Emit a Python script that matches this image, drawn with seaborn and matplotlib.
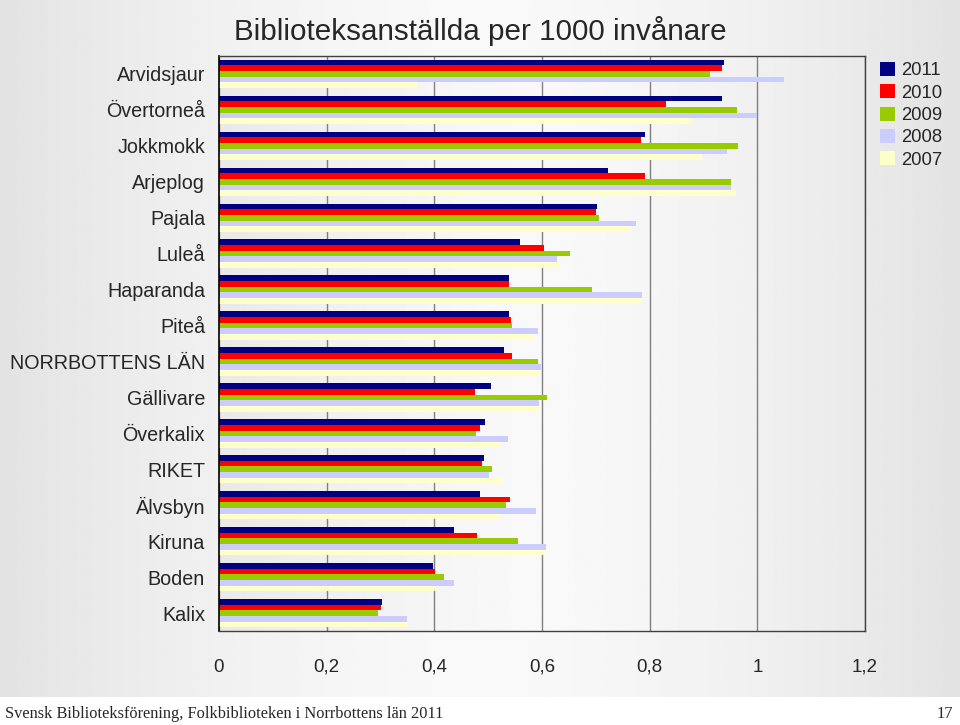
import numpy as np
import pandas as pd
import matplotlib
matplotlib.use("Agg")
import matplotlib.pyplot as plt
import seaborn as sns

# ---- data ----
categories = ["Arvidsjaur", "Övertorneå", "Jokkmokk", "Arjeplog", "Pajala", "Luleå",
              "Haparanda", "Piteå", "NORRBOTTENS LÄN", "Gällivare", "Överkalix", "RIKET",
              "Älvsbyn", "Kiruna", "Boden", "Kalix"]
years = ["2011", "2010", "2009", "2008", "2007"]
v2011 = [0.939, 0.935, 0.791, 0.723, 0.702, 0.559, 0.538, 0.538, 0.529, 0.506, 0.495, 0.493, 0.485, 0.436, 0.398, 0.302]
v2010 = [0.935, 0.831, 0.784, 0.791, 0.700, 0.603, 0.538, 0.543, 0.545, 0.476, 0.485, 0.488, 0.540, 0.479, 0.402, 0.300]
v2009 = [0.912, 0.962, 0.964, 0.952, 0.706, 0.652, 0.692, 0.545, 0.592, 0.610, 0.478, 0.507, 0.534, 0.555, 0.418, 0.296]
v2008 = [1.049, 1.000, 0.943, 0.952, 0.774, 0.627, 0.785, 0.592, 0.598, 0.595, 0.536, 0.502, 0.589, 0.607, 0.436, 0.349]
v2007 = [0.370, 0.877, 0.898, 0.961, 0.764, 0.632, 0.786, 0.585, 0.595, 0.595, 0.521, 0.525, 0.521, 0.607, 0.404, 0.350]
colors = ["#000080", "#ff0000", "#99cc00", "#ccccff", "#ffffcc"]
xticks = [0, 0.2, 0.4, 0.6, 0.8, 1.0, 1.2]
xticklabels = ["0", "0,2", "0,4", "0,6", "0,8", "1", "1,2"]
title = "Biblioteksanställda per 1000 invånare"
footer = "Svensk Biblioteksförening, Folkbiblioteken i Norrbottens län 2011"

rows = []
for yr, vals in zip(years, [v2011, v2010, v2009, v2008, v2007]):
    for c, v in zip(categories, vals):
        rows.append({"kommun": c, "year": yr, "value": v})
df = pd.DataFrame(rows)

sns.set_style("white")
plt.rcParams["font.family"] = ["Liberation Sans", "DejaVu Sans"]

W, H = 960, 725
fig = plt.figure(figsize=(W / 100, H / 100), dpi=100)
fig.patch.set_facecolor("white")

# slide background gradient
bg = fig.add_axes([0, 28 / H, 1, 1 - 28 / H], zorder=-10)
xg = np.linspace(0, 1, 400)
g = 0.975 - 0.085 * (np.abs(xg - 0.5) * 2) ** 1.6
bg.imshow(np.tile(g, (2, 1)), cmap="gray", vmin=0, vmax=1, aspect="auto",
          extent=[0, 1, 0, 1], interpolation="bilinear")
bg.set_axis_off()

rect = [219 / W, (H - 631) / H, (865 - 219) / W, (631 - 56) / H]
pbg = fig.add_axes(rect, zorder=-5)
g2 = 0.975 - 0.06 * (np.abs(xg - 0.5) * 2) ** 1.4
pbg.imshow(np.tile(g2, (2, 1)), cmap="gray", vmin=0, vmax=1, aspect="auto",
           extent=[0, 1, 0, 1], interpolation="bilinear")
pbg.set_axis_off()

ax = fig.add_axes(rect)
ax.set_facecolor("none")
sns.barplot(data=df, x="value", y="kommun", hue="year", hue_order=years,
            palette=colors, orient="h", width=0.79, saturation=1,
            linewidth=0, ax=ax, order=categories)

handles, labels = ax.get_legend_handles_labels()
if ax.get_legend() is not None:
    ax.get_legend().remove()

ax.set_xlim(0, 1.2)
ax.set_ylim(len(categories) - 0.5, -0.5)
ax.set_xticks(xticks)
ax.set_xticklabels(xticklabels, fontsize=13.5)
ax.grid(axis="x", color="#808080", lw=1)
ax.grid(axis="y", visible=False)
ax.set_axisbelow(True)
ax.set_xlabel("")
ax.set_ylabel("")
ax.tick_params(axis="x", length=0, pad=20)
ax.tick_params(axis="y", which="major", length=0, pad=10, labelsize=14.2)
ax.set_yticks(np.arange(-0.5, len(categories), 1), minor=True)
ax.tick_params(axis="y", which="minor", length=4, width=1, color="black", direction="out")
for s in ["top", "right", "bottom"]:
    ax.spines[s].set_color("#404040")
    ax.spines[s].set_linewidth(1)
ax.spines["left"].set_color("black")
ax.spines["left"].set_linewidth(1.2)

fig.legend(handles, labels, loc="upper left", bbox_to_anchor=(880 / W, (H - 62) / H),
           frameon=False, fontsize=13.3, handlelength=0.8, handleheight=0.8,
           handletextpad=0.35, labelspacing=0.26, borderpad=0, borderaxespad=0)

fig.text(480 / W, (H - 31) / H, title, ha="center", va="center", fontsize=21.3)
fig.text(5 / W, (H - 714) / H, footer, ha="left", va="center", fontsize=11.8,
         family=["Liberation Serif", "DejaVu Serif"])
fig.text(953 / W, (H - 714) / H, "17", ha="right", va="center", fontsize=11.8,
         family=["Liberation Serif", "DejaVu Serif"])

fig.savefig("out.png", dpi=100)
